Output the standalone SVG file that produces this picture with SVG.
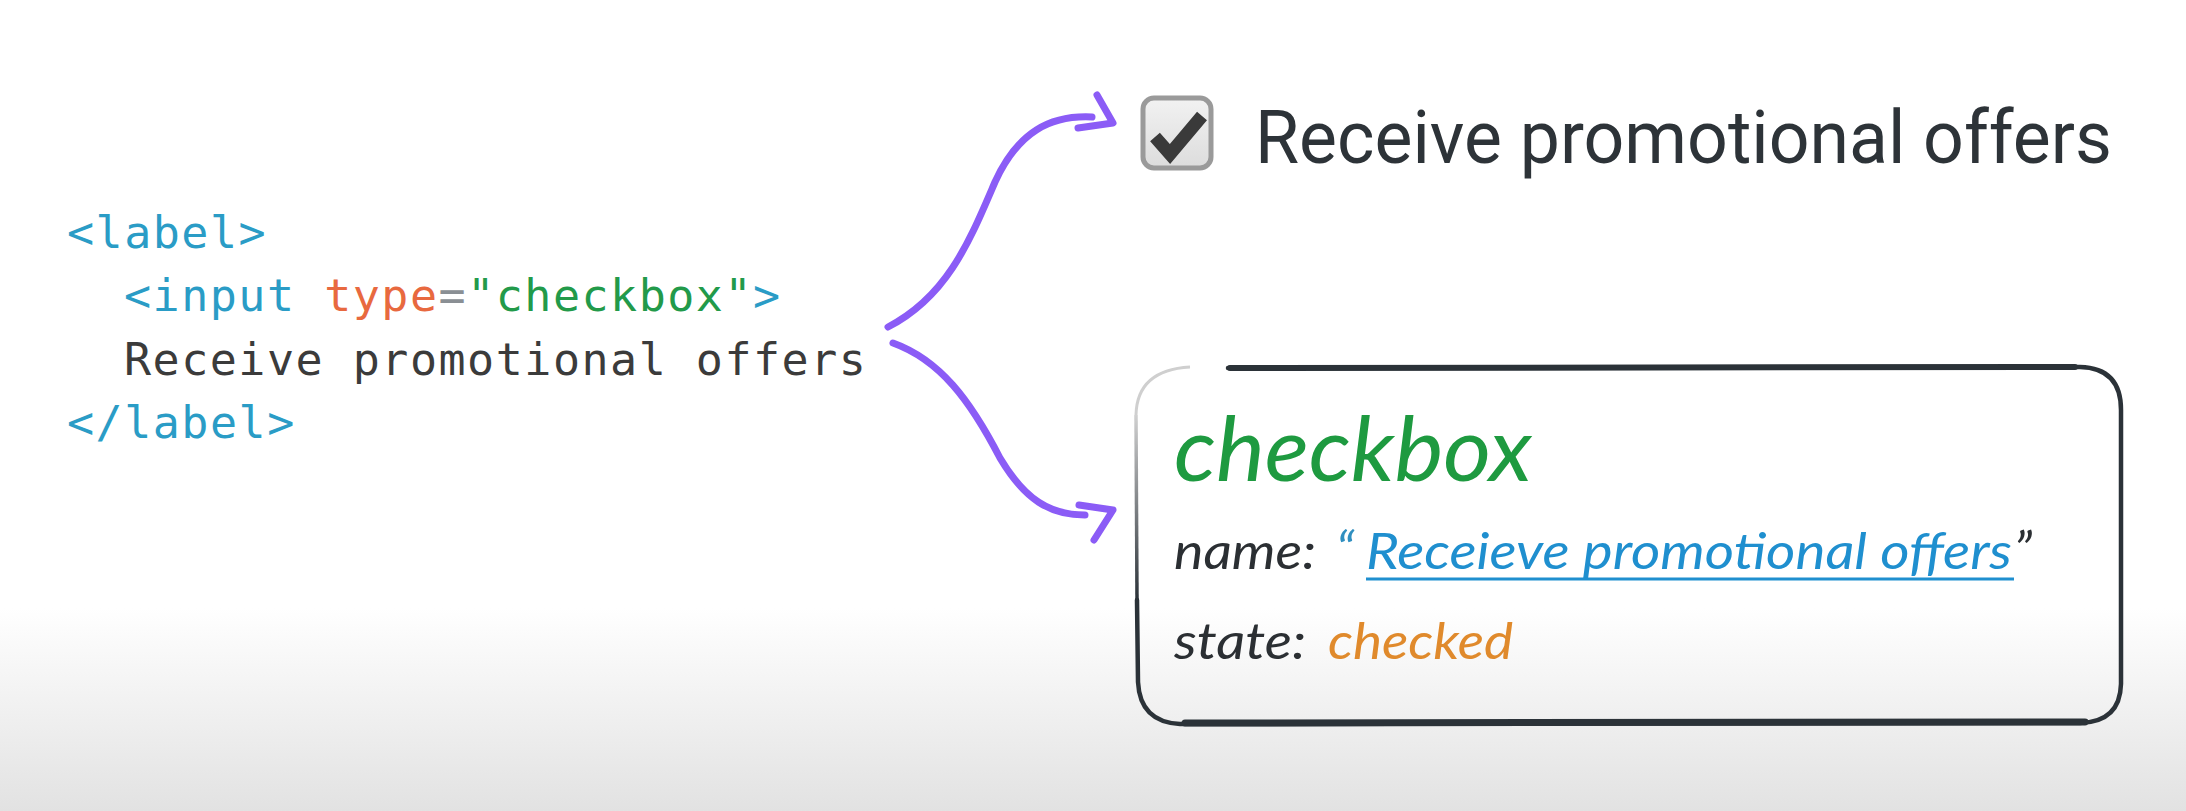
<svg xmlns="http://www.w3.org/2000/svg" width="2186" height="811" viewBox="0 0 2186 811">
<defs>
<linearGradient id="bg" x1="0" y1="0" x2="0" y2="1">
<stop offset="0" stop-color="#ffffff"/>
<stop offset="0.75" stop-color="#ffffff"/>
<stop offset="1" stop-color="#e2e2e2"/>
</linearGradient>
<linearGradient id="cbfill" x1="0" y1="0" x2="0" y2="1">
<stop offset="0" stop-color="#f2f2f2"/>
<stop offset="1" stop-color="#dcdcdc"/>
</linearGradient>
<linearGradient id="corner" x1="0" y1="0" x2="0" y2="1">
<stop offset="0" stop-color="#d0d0d0"/>
<stop offset="1" stop-color="#2b3238"/>
</linearGradient>
<style>
.code{font-family:"DejaVu Sans Mono","Liberation Mono",monospace;font-size:45px;letter-spacing:1.5px}
.tag{fill:#2a9cc6}
.attr{fill:#e8693f}
.eq{fill:#8a8f94}
.str{fill:#229a4a}
.plain{fill:#3b3b3b}
.hand{font-family:Lato,"Open Sans",sans-serif;font-style:italic}
.arrow{fill:none;stroke:#8b5cf6;stroke-width:7;stroke-linecap:round;stroke-linejoin:round}
</style>
</defs>
<rect width="2186" height="811" fill="url(#bg)"/>

<g id="code">
<text class="code" x="67" y="248"><tspan class="tag">&lt;label&gt;</tspan></text>
<text class="code" x="124" y="311"><tspan class="tag">&lt;input </tspan><tspan class="attr">type</tspan><tspan class="eq">=</tspan><tspan class="str">"checkbox"</tspan><tspan class="tag">&gt;</tspan></text>
<text class="code plain" x="124" y="375">Receive promotional offers</text>
<text class="code" x="67" y="438"><tspan class="tag">&lt;/label&gt;</tspan></text>
</g>

<g id="rendered-checkbox">
<rect x="1143" y="98" width="68" height="70" rx="11" fill="url(#cbfill)" stroke="#9a9a9a" stroke-width="5"/>
<path d="M1155 137 L1170 154 L1202 116" fill="none" stroke="#3a3a3a" stroke-width="13" stroke-linejoin="miter"/>
<text x="1255" y="163" font-family="Roboto,'Liberation Sans',sans-serif" font-size="74" fill="#2d3338" textLength="857" lengthAdjust="spacingAndGlyphs">Receive promotional offers</text>
</g>

<g id="accessibility-node">
<path d="M1190 367 Q1137 370 1136 415" fill="none" stroke="#cfcfcf" stroke-width="3"/>
<path d="M1136 415 L1137 600" fill="none" stroke="url(#corner)" stroke-width="3.5"/>
<path d="M1137 600 L1138 682 Q1140 722 1180 724 L2080 723 Q2120 722 2121 684 L2121 410 Q2121 368 2080 367 L1228 368" fill="none" stroke="#2b3238" stroke-width="4.5" stroke-linecap="round"/>
<path d="M1185 723 L2085 722" fill="none" stroke="#2b3238" stroke-width="7" stroke-linecap="round"/>
<path d="M1230 368 L2075 367" fill="none" stroke="#2b3238" stroke-width="6" stroke-linecap="round"/>
<text class="hand" x="1174" y="481" font-size="90" fill="#1e9a40" textLength="358" lengthAdjust="spacingAndGlyphs">checkbox</text>
<text class="hand" x="1174" y="569" font-size="50" fill="#2b2f33" textLength="142" lengthAdjust="spacingAndGlyphs">name:</text>
<text class="hand" x="1336" y="569" font-size="52" fill="#2f8fc0">“</text>
<text class="hand" x="1366" y="569" font-size="50" fill="#1f8fcf" textLength="646" lengthAdjust="spacingAndGlyphs">Receieve promotional offers</text>
<line x1="1366" y1="579" x2="2014" y2="579" stroke="#1f8fcf" stroke-width="3"/>
<text class="hand" x="2014" y="569" font-size="52" fill="#2b2f33">”</text>
<text class="hand" x="1174" y="659" font-size="50" fill="#2b2f33" textLength="132" lengthAdjust="spacingAndGlyphs">state:</text>
<text class="hand" x="1328" y="659" font-size="50" fill="#e08a2c" textLength="185" lengthAdjust="spacingAndGlyphs">checked</text>
</g>

<g id="connectors">
<path class="arrow" d="M888 327 C948 296 970 240 995 182 C1018 132 1050 115 1092 117"/>
<path class="arrow" d="M1097 95 L1113 123 L1078 128"/>
<path class="arrow" d="M893 343 C940 360 970 400 1000 458 C1025 500 1050 515 1085 515"/>
<path class="arrow" d="M1079 505 L1113 510 L1094 540"/>
</g>
</svg>
